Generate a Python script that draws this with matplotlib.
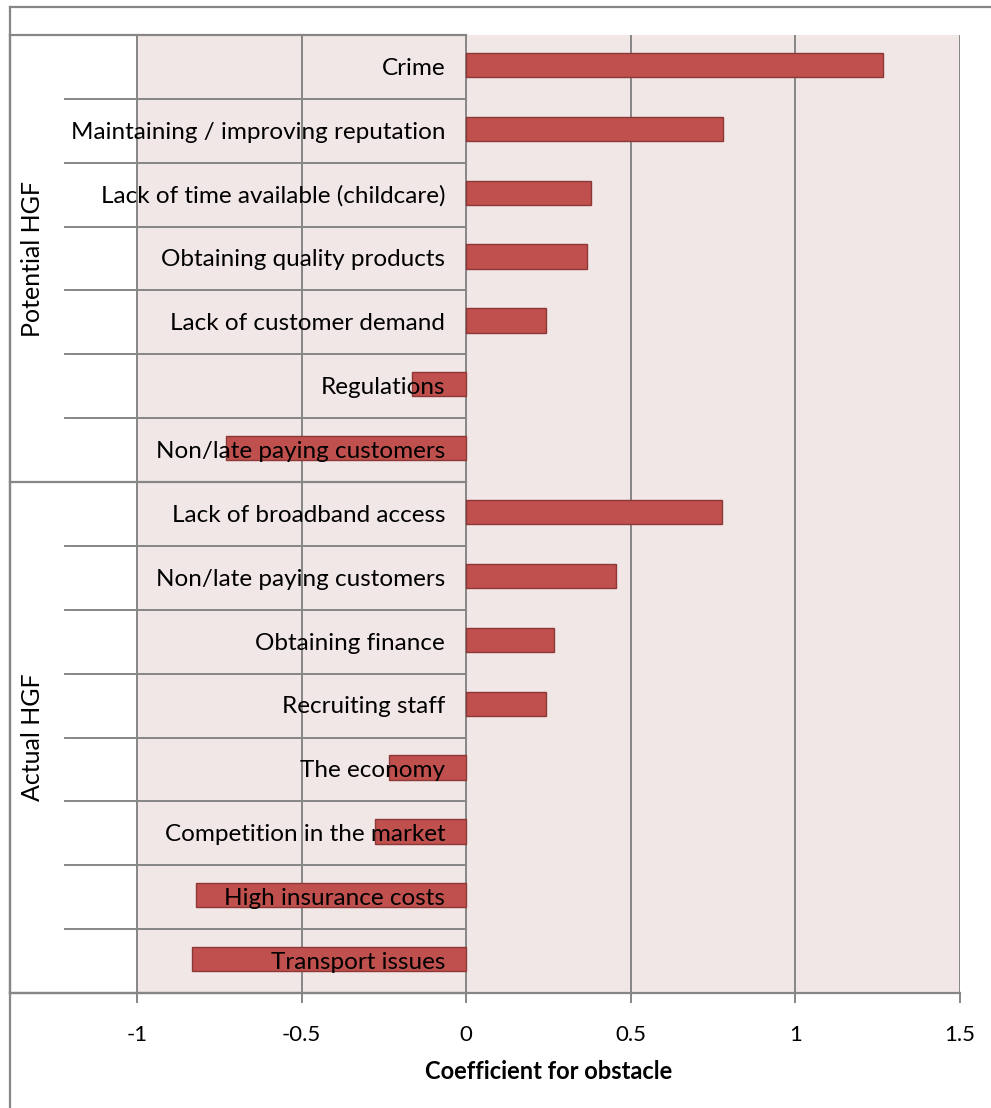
import matplotlib.pyplot as plt
from matplotlib.lines import Line2D
import numpy as np

# dados
categorias = ['Crime', 'Maintaining / improving reputation',
              'Lack of time available (childcare)', 'Obtaining quality products',
              'Lack of customer demand', 'Regulations', 'Non/late paying customers',
              'Lack of broadband access', 'Non/late paying customers',
              'Obtaining finance', 'Recruiting staff', 'The economy',
              'Competition in the market', 'High insurance costs', 'Transport issues']
valores = [1.266, 0.781, 0.378, 0.366, 0.243, -0.166, -0.73,
           0.778, 0.456, 0.268, 0.243, -0.236, -0.278, -0.822, -0.834]
grupos = ['Potential HGF', 'Actual HGF']
tamanho_grupos = [7, 8]
xticks = [-1, -0.5, 0, 0.5, 1, 1.5]
xtick_labels = ['-1', '-0.5', '0', '0.5', '1', '1.5']

plt.rcParams['font.family'] = ['Lato', 'DejaVu Sans']

W, H = 991, 1108
fig = plt.figure(figsize=(W / 100, H / 100), dpi=100)
ax = fig.add_axes([10 / W, 1 - 993 / H, 950 / W, 958 / H])

cinza = '#868686'
px_por_unidade = 329.0
xmin = -1 - 127 / px_por_unidade
ax.set_xlim(xmin, 1.5)
n = len(categorias)
ax.set_ylim(n - 0.5, -0.5)

# fundo rosa da area do grafico
ax.axvspan(-1, 1.5, color='#F2E7E7', zorder=0)
for xt in xticks:
    ax.axvline(xt, color=cinza, lw=1.4, zorder=1)

y = np.arange(n)
ax.barh(y - 0.03, valores, height=0.38, color='#C0504D', edgecolor='#8C3836',
        linewidth=1.0, zorder=2)

# linhas de separacao das categorias
x_tick_cat = xmin + 55 / px_por_unidade
inicio = 0
for g in tamanho_grupos:
    for k in range(1, g):
        ax.plot([x_tick_cat, 0], [inicio + k - 0.5] * 2, color=cinza, lw=1.4,
                zorder=1, clip_on=False)
    inicio += g
limites = np.concatenate([[0], np.cumsum(tamanho_grupos)]) - 0.5
for b in limites:
    ax.plot([xmin, 0], [b, b], color=cinza, lw=1.6, zorder=3, clip_on=False)

# rotulos das categorias junto do eixo em zero
for yi, cat in zip(y, categorias):
    ax.text(-21 / px_por_unidade, yi + 0.02, cat, ha='right', va='center',
            fontsize=17.5, color='black', zorder=4)

# rotulos dos grupos
inicio = 0
for g, nome in zip(tamanho_grupos, grupos):
    ax.text(xmin + 22 / px_por_unidade, inicio + g / 2 - 0.5, nome,
            rotation=90, ha='center', va='center', fontsize=18)
    inicio += g

ax.set_yticks([])
ax.set_xticks(xticks)
ax.set_xticklabels(xtick_labels, fontsize=16)
ax.tick_params(axis='x', length=7, width=1.4, color=cinza, pad=16)
for lado in ['top', 'right']:
    ax.spines[lado].set_visible(False)
for lado in ['left', 'bottom']:
    ax.spines[lado].set_color(cinza)
    ax.spines[lado].set_linewidth(1.6)
ax.set_xlabel('Coefficient for obstacle', fontsize=17, fontweight='bold', labelpad=11)
# centralizado na area rosa (de -1 a 1.5)
ax.xaxis.label.set_x((0.25 - xmin) / (1.5 - xmin))

# borda externa do grafico
fig.add_artist(Line2D([10 / W, 10 / W], [0, 1 - 7 / H], color=cinza, lw=1.6))
fig.add_artist(Line2D([10 / W, 1], [1 - 7 / H, 1 - 7 / H], color=cinza, lw=1.6))

plt.savefig('out.png', dpi=100)
